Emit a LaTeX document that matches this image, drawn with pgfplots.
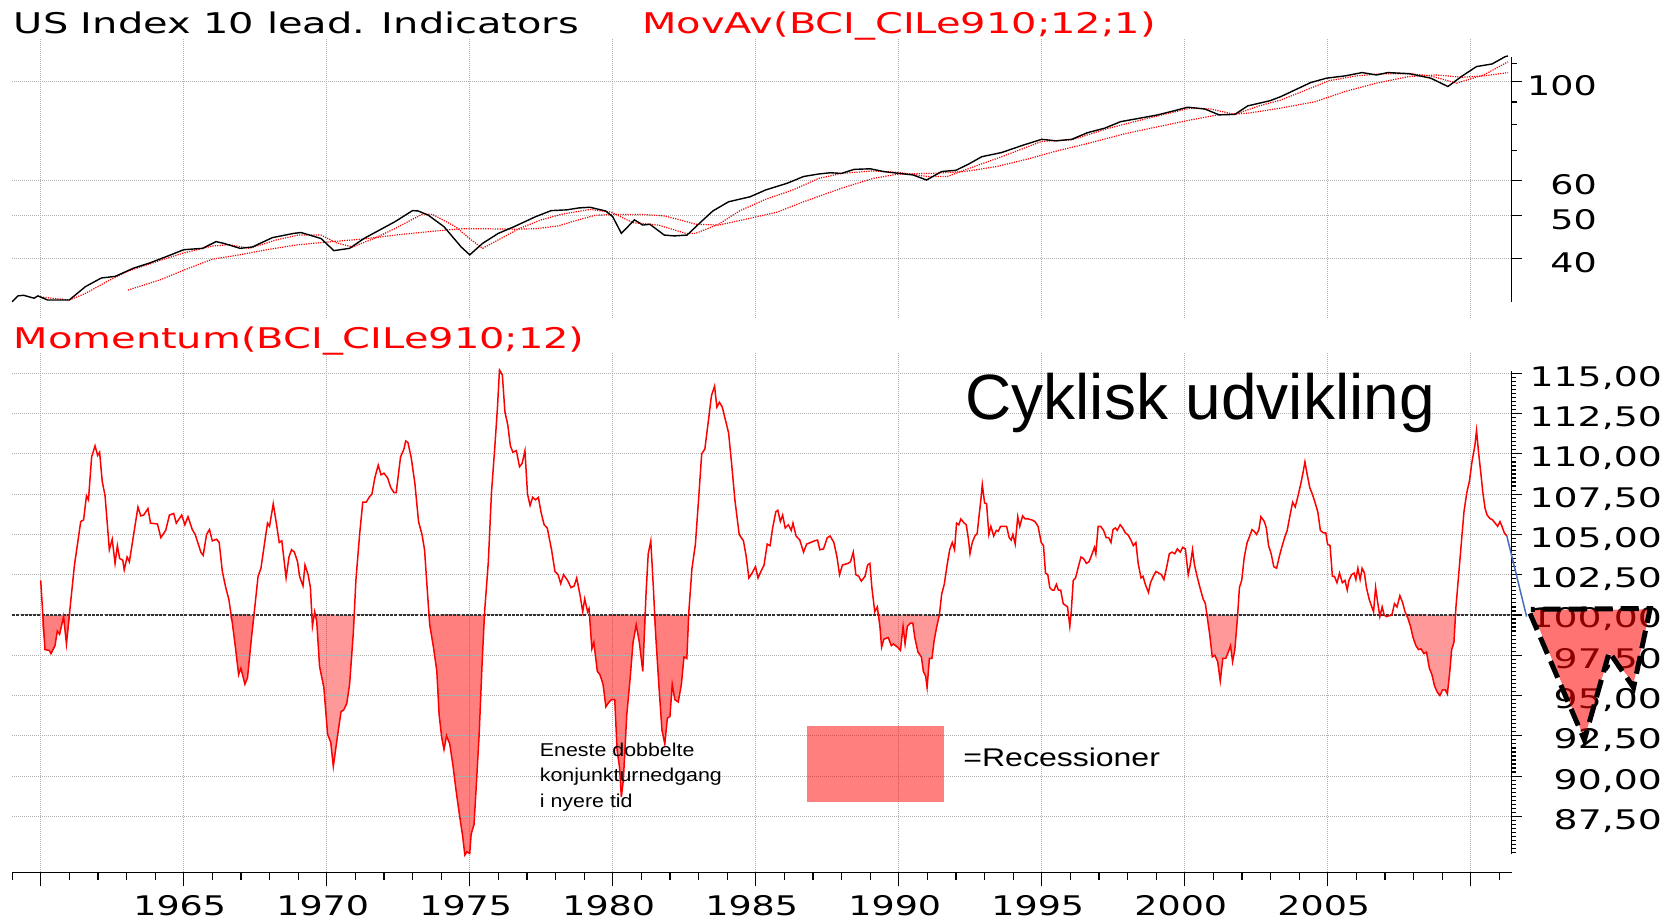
\documentclass[border=0pt]{standalone}
\usepackage{pgfplots}
\pgfplotsset{compat=1.18}
\usepgfplotslibrary{fillbetween}
\usepackage{pgfplotstable}
\usepackage{fontspec}
\newfontfamily\chartfont[FakeStretch=1.35]{DejaVu Sans}
\newfontfamily\chartfontw[FakeStretch=1.4]{DejaVu Sans}
\newfontfamily\titlefont[FakeStretch=1.4]{DejaVu Sans}
\newfontfamily\annfont{Liberation Sans}
\newfontfamily\annfontA[FakeStretch=1.15]{Liberation Sans}
\newfontfamily\annfontB[FakeStretch=1.25]{Liberation Sans}

\definecolor{projblue}{RGB}{70,110,190}

% index (black)
\pgfplotstableread{
yr v
1959.0 32.0
1959.21 33.0
1959.4 33.1
1959.77 32.6
1959.9 33.0
1960.24 32.3
1961.0 32.3
1961.56 34.6
1962.12 36.2
1962.6 36.5
1963.25 38.1
1963.8 39.1
1964.55 40.8
1965.0 41.9
1965.66 42.2
1966.13 43.7
1966.4 43.3
1966.97 42.2
1967.4 42.5
1968.1 44.6
1968.85 45.6
1969.1 45.8
1969.8 44.4
1970.25 41.7
1970.8 42.2
1971.3 44.4
1971.85 46.4
1972.4 48.5
1973.0 51.3
1973.2 51.2
1973.55 50.1
1974.1 47.2
1974.7 42.5
1975.0 40.8
1975.45 43.3
1976.0 45.6
1976.55 47.2
1977.3 49.7
1977.85 51.3
1978.4 51.5
1978.8 52.0
1979.2 52.2
1979.75 51.2
1980.0 49.7
1980.3 45.6
1980.76 48.9
1981.05 47.6
1981.3 47.8
1981.8 45.2
1982.15 45.0
1982.6 45.2
1983.1 48.5
1983.5 51.2
1984.05 53.7
1984.8 55.1
1985.35 57.1
1986.1 59.1
1986.67 61.2
1987.2 62.0
1987.6 62.4
1988.0 62.2
1988.44 63.5
1989.0 63.7
1989.46 62.8
1990.0 62.2
1990.5 61.7
1990.97 60.1
1991.5 62.8
1992.0 63.2
1992.45 65.3
1992.9 67.8
1993.6 69.3
1994.35 72.0
1995.0 74.2
1995.5 73.6
1996.05 74.2
1996.6 76.8
1997.2 78.6
1997.76 81.3
1998.4 82.7
1999.06 84.2
1999.6 85.9
2000.1 87.6
2000.7 86.8
2001.2 84.2
2001.75 84.4
2002.2 88.2
2002.98 90.6
2003.35 92.5
2003.9 96.1
2004.4 99.5
2004.95 101.8
2005.6 103.0
2006.2 104.8
2006.7 103.5
2007.1 104.8
2007.85 104.2
2008.6 101.8
2009.2 97.5
2009.7 103.0
2010.2 108.1
2010.75 109.6
2011.2 113.8
2011.3 114.2
}\idxdata

% short moving average (red dotted)
\pgfplotstableread{
yr v
1960.0 32.8
1961.0 32.3
1961.56 33.4
1962.3 35.5
1963.05 37.5
1964.2 39.7
1965.0 41.2
1966.0 42.7
1966.6 43.0
1967.3 42.2
1968.25 44.1
1969.0 45.2
1969.8 45.2
1970.35 43.4
1970.9 42.5
1971.65 44.4
1972.4 46.8
1973.35 50.4
1973.7 50.3
1974.5 47.2
1975.05 44.1
1975.45 42.2
1976.0 44.1
1976.75 46.8
1977.5 48.9
1978.25 50.4
1979.2 51.6
1979.95 50.9
1980.7 48.2
1981.6 47.6
1982.55 45.6
1982.9 45.6
1983.7 47.8
1984.45 51.3
1985.35 54.4
1986.3 57.1
1987.2 60.6
1988.0 62.2
1989.1 63.0
1990.0 62.5
1991.0 61.2
1991.7 61.2
1992.45 63.8
1993.6 67.8
1995.0 73.4
1996.05 74.0
1997.35 78.6
1998.7 82.7
2000.2 87.2
2000.9 86.8
2001.75 84.4
2002.6 88.2
2003.35 90.9
2004.3 96.1
2005.05 100.5
2006.0 103.0
2006.9 104.2
2007.85 104.2
2008.6 103.0
2009.5 99.2
2010.45 103.5
2011.3 110.8
}\mashort

% long moving average (red dotted)
\pgfplotstableread{
yr v
1963.05 34.0
1964.2 35.9
1965.0 37.7
1966.0 39.9
1966.95 40.8
1967.9 41.9
1969.0 43.0
1970.2 43.7
1971.3 44.3
1972.4 45.2
1973.55 46.0
1974.7 46.7
1975.45 46.7
1976.55 46.6
1977.3 46.7
1978.1 47.4
1978.8 48.9
1979.4 50.1
1980.1 50.3
1981.05 50.3
1981.8 49.9
1982.35 48.9
1982.9 47.8
1983.7 47.6
1984.8 49.3
1985.75 50.9
1986.67 53.7
1988.0 57.6
1989.1 60.6
1990.0 62.0
1991.15 62.2
1992.3 62.8
1993.4 64.4
1994.55 67.1
1995.5 69.8
1996.6 72.6
1997.95 76.5
1999.3 79.8
2000.2 82.0
2001.15 84.2
2002.2 84.9
2003.35 87.2
2004.55 90.1
2005.6 95.0
2006.7 99.2
2007.85 102.7
2008.8 103.5
2009.7 102.3
2010.45 103.0
2011.3 104.8
}\malong

% momentum
\pgfplotstableread{
yr v
1960.0 102.15
1960.15 97.85
1960.3 97.8
1960.36 97.6
1960.5 98.1
1960.58 99.0
1960.66 98.8
1960.8 99.9
1960.9 98.2
1961.03 100.5
1961.18 103.1
1961.4 105.8
1961.5 105.9
1961.6 107.4
1961.67 107.15
1961.78 109.8
1961.9 110.5
1961.99 109.9
1962.06 110.1
1962.15 108.3
1962.25 107.4
1962.4 104.05
1962.5 104.7
1962.6 103.2
1962.68 104.3
1962.76 103.5
1962.87 103.4
1962.92 102.8
1963.02 103.6
1963.1 103.3
1963.25 105.0
1963.4 106.7
1963.5 106.15
1963.6 106.2
1963.75 106.6
1963.84 105.7
1964.08 105.65
1964.2 104.8
1964.37 105.25
1964.5 106.2
1964.65 106.3
1964.74 105.7
1964.93 106.2
1965.04 105.6
1965.15 106.1
1965.3 105.3
1965.4 105.0
1965.6 103.9
1965.68 103.7
1965.8 105.0
1965.9 105.3
1966.0 104.6
1966.15 104.7
1966.24 104.5
1966.35 102.7
1966.47 101.7
1966.58 100.95
1966.7 99.5
1966.8 98.1
1966.92 96.3
1967.0 96.7
1967.14 95.7
1967.23 96.1
1967.37 98.6
1967.48 100.4
1967.6 102.4
1967.7 102.9
1967.83 104.5
1967.93 105.7
1968.0 105.5
1968.13 106.9
1968.23 105.8
1968.34 104.5
1968.43 104.6
1968.58 102.3
1968.68 103.6
1968.77 104.05
1968.87 103.9
1968.98 103.3
1969.05 102.4
1969.17 101.8
1969.24 103.1
1969.35 102.5
1969.43 101.7
1969.5 99.3
1969.58 100.2
1969.65 99.6
1969.75 96.8
1969.9 95.5
1970.03 92.6
1970.14 92.1
1970.23 90.6
1970.37 92.4
1970.5 94.0
1970.59 94.1
1970.7 94.5
1970.8 95.7
1970.93 98.9
1971.02 102.15
1971.15 105.0
1971.26 107.0
1971.38 107.0
1971.5 107.35
1971.58 107.5
1971.68 108.5
1971.8 109.3
1971.9 108.7
1972.0 108.8
1972.13 108.5
1972.24 107.9
1972.35 107.6
1972.43 107.6
1972.58 109.8
1972.7 110.3
1972.76 110.8
1972.84 110.7
1972.95 109.8
1973.08 108.2
1973.21 105.8
1973.33 105.0
1973.42 104.05
1973.51 101.7
1973.6 99.4
1973.74 97.9
1973.85 96.5
1973.93 93.8
1974.02 92.4
1974.1 91.65
1974.19 92.5
1974.3 92.0
1974.41 90.7
1974.53 89.0
1974.64 87.6
1974.75 86.3
1974.83 85.1
1974.9 85.3
1975.0 85.2
1975.05 86.4
1975.15 87.0
1975.24 89.75
1975.33 92.6
1975.43 96.9
1975.52 100.2
1975.65 103.3
1975.76 107.6
1975.88 110.5
1975.97 112.9
1976.04 115.2
1976.14 114.9
1976.23 112.6
1976.33 111.8
1976.42 110.5
1976.51 110.1
1976.63 110.2
1976.74 109.2
1976.83 109.4
1976.93 110.2
1977.02 107.5
1977.11 106.8
1977.2 107.3
1977.3 107.15
1977.4 107.3
1977.49 106.4
1977.6 105.6
1977.71 105.4
1977.86 104.05
1977.98 102.7
1978.09 102.5
1978.18 101.95
1978.28 102.5
1978.42 102.15
1978.54 101.7
1978.65 101.8
1978.74 102.3
1978.86 101.2
1978.95 100.2
1979.02 101.0
1979.12 100.2
1979.17 100.4
1979.27 97.9
1979.34 98.3
1979.46 96.5
1979.55 96.3
1979.66 95.7
1979.76 94.3
1979.87 94.6
1979.96 94.75
1980.07 94.75
1980.15 91.65
1980.24 90.5
1980.3 88.7
1980.37 89.75
1980.49 93.8
1980.6 95.9
1980.71 98.3
1980.82 99.4
1980.93 98.3
1981.05 96.5
1981.16 101.2
1981.24 103.8
1981.33 104.6
1981.42 101.7
1981.5 98.8
1981.61 95.7
1981.72 92.85
1981.82 92.0
1981.91 93.6
1982.0 93.7
1982.08 95.7
1982.17 94.75
1982.29 94.6
1982.4 95.7
1982.49 97.4
1982.59 97.3
1982.66 100.2
1982.77 102.9
1982.89 104.4
1983.0 107.15
1983.11 110.0
1983.22 110.3
1983.34 112.0
1983.45 113.6
1983.56 114.2
1983.64 112.9
1983.73 113.2
1983.83 112.9
1983.94 112.1
1984.05 111.3
1984.16 109.3
1984.27 107.15
1984.42 105.0
1984.57 104.6
1984.66 103.7
1984.76 102.3
1984.87 102.6
1984.99 103.0
1985.08 102.3
1985.18 102.7
1985.29 103.1
1985.4 104.4
1985.5 104.3
1985.59 105.4
1985.7 106.4
1985.77 106.5
1985.86 105.8
1985.94 106.2
1986.03 105.4
1986.14 105.6
1986.24 105.25
1986.3 105.7
1986.41 104.9
1986.54 104.65
1986.67 103.9
1986.78 104.4
1986.92 104.5
1987.05 104.6
1987.16 104.65
1987.24 104.05
1987.37 104.1
1987.5 104.8
1987.6 104.9
1987.73 104.5
1987.84 103.6
1987.93 102.5
1988.03 103.1
1988.13 103.15
1988.22 103.2
1988.31 103.3
1988.41 103.9
1988.5 102.5
1988.6 102.4
1988.69 102.1
1988.82 102.4
1988.91 103.1
1988.99 103.2
1989.06 101.7
1989.16 100.2
1989.25 100.5
1989.34 99.3
1989.4 98.0
1989.48 98.5
1989.63 98.6
1989.74 98.1
1989.81 98.2
1989.96 98.0
1990.06 97.8
1990.15 99.3
1990.22 98.2
1990.3 99.3
1990.41 99.5
1990.49 99.5
1990.56 98.6
1990.67 97.7
1990.79 97.4
1990.86 96.5
1990.94 96.2
1990.99 95.5
1991.07 97.3
1991.16 97.3
1991.24 98.45
1991.33 99.3
1991.42 100.0
1991.5 101.3
1991.59 101.9
1991.69 103.1
1991.78 104.05
1991.87 104.5
1991.95 104.05
1992.02 105.7
1992.1 105.6
1992.17 105.96
1992.29 105.7
1992.36 105.6
1992.44 104.65
1992.49 103.8
1992.57 104.5
1992.66 104.9
1992.74 105.05
1992.81 106.2
1992.87 107.15
1992.92 108.1
1993.0 106.96
1993.07 106.9
1993.15 105.0
1993.22 105.5
1993.32 104.9
1993.41 105.25
1993.48 105.2
1993.56 105.5
1993.67 105.5
1993.77 105.5
1993.86 104.8
1993.93 104.65
1993.99 105.0
1994.07 104.4
1994.16 106.1
1994.23 105.5
1994.33 106.15
1994.42 105.96
1994.53 105.96
1994.65 105.9
1994.76 105.8
1994.87 105.5
1994.98 104.5
1995.06 104.3
1995.13 102.6
1995.21 102.5
1995.28 101.7
1995.36 101.55
1995.43 101.55
1995.51 101.9
1995.58 101.55
1995.66 101.55
1995.75 100.7
1995.83 100.6
1995.9 100.5
1995.98 99.3
1996.03 100.2
1996.1 102.15
1996.18 102.3
1996.28 103.0
1996.37 103.6
1996.46 103.5
1996.56 103.2
1996.65 103.3
1996.74 103.7
1996.84 104.2
1996.89 103.8
1996.97 105.5
1997.06 105.5
1997.16 105.25
1997.25 104.8
1997.34 104.8
1997.42 104.5
1997.49 105.3
1997.57 105.4
1997.64 105.25
1997.74 105.6
1997.83 105.4
1997.92 105.1
1998.02 104.96
1998.13 104.6
1998.2 104.3
1998.29 104.5
1998.37 103.2
1998.47 102.3
1998.54 102.4
1998.62 101.9
1998.73 101.4
1998.8 102.0
1998.9 102.4
1998.99 102.7
1999.09 102.6
1999.18 102.5
1999.27 102.2
1999.37 103.0
1999.46 103.8
1999.55 103.9
1999.65 103.8
1999.74 104.1
1999.84 103.9
1999.93 104.2
2000.02 104.1
2000.12 102.5
2000.19 103.1
2000.27 104.05
2000.34 103.1
2000.43 102.4
2000.53 101.7
2000.64 101.0
2000.72 100.7
2000.79 99.8
2000.87 98.8
2000.96 97.4
2001.05 97.5
2001.15 97.1
2001.24 95.9
2001.33 97.3
2001.43 97.3
2001.52 97.7
2001.6 98.1
2001.67 97.1
2001.75 97.85
2001.84 99.8
2001.91 101.7
2001.99 102.15
2002.08 103.6
2002.18 104.5
2002.27 104.9
2002.35 105.3
2002.42 105.2
2002.51 105.0
2002.59 105.3
2002.66 106.1
2002.78 105.8
2002.85 105.4
2002.93 104.3
2003.02 103.8
2003.11 103.0
2003.21 102.9
2003.3 103.6
2003.39 104.2
2003.49 104.8
2003.58 105.25
2003.68 106.2
2003.77 107.0
2003.86 106.7
2003.96 107.4
2004.05 108.1
2004.13 108.8
2004.2 109.5
2004.27 108.8
2004.37 107.9
2004.46 107.5
2004.55 107.0
2004.65 106.4
2004.74 105.25
2004.84 105.1
2004.93 105.1
2004.99 104.4
2005.08 104.3
2005.16 102.4
2005.23 102.4
2005.32 102.0
2005.41 102.6
2005.51 102.0
2005.6 102.15
2005.68 101.55
2005.74 102.15
2005.83 102.5
2005.92 102.6
2005.98 102.2
2006.05 102.9
2006.13 102.2
2006.2 102.9
2006.28 102.6
2006.35 101.7
2006.45 100.95
2006.52 100.6
2006.6 100.2
2006.67 101.7
2006.75 100.7
2006.82 99.9
2006.9 100.5
2006.97 100.0
2007.05 99.9
2007.14 99.95
2007.24 100.0
2007.33 100.7
2007.42 100.5
2007.52 101.2
2007.61 100.8
2007.7 100.2
2007.8 99.8
2007.89 99.3
2007.98 98.6
2008.08 98.1
2008.17 97.85
2008.26 97.9
2008.36 97.6
2008.45 97.7
2008.55 96.7
2008.64 96.3
2008.73 95.6
2008.83 95.2
2008.92 95.0
2009.01 95.35
2009.11 95.35
2009.18 95.1
2009.26 96.4
2009.33 97.85
2009.41 98.3
2009.48 100.5
2009.58 102.6
2009.67 104.5
2009.76 106.4
2009.86 107.6
2009.95 108.3
2010.04 109.5
2010.14 110.5
2010.2 111.45
2010.27 110.1
2010.35 108.8
2010.42 107.6
2010.5 106.6
2010.57 106.2
2010.66 106.0
2010.76 105.9
2010.85 105.7
2010.94 105.5
2011.02 105.8
2011.09 105.5
2011.17 105.1
2011.26 104.9
}\momdata

\begin{document}
\begin{tikzpicture}

% ---------- upper panel: index + moving averages (log) ----------
\begin{axis}[
  at={(6.05pt,301pt)}, anchor=south west,
  width=749.8pt, height=139.35pt, scale only axis,
  xmin=1959, xmax=2011.43,
  ymode=log, ymin=29.43, ymax=124.5,
  axis line style={draw=none},
  xtick={1960,1965,...,2010}, xticklabels={},
  major x tick style=transparent,
  ytick={40,50,60,100}, yticklabels={40,50,60,100},
  minor ytick={70,80,90,110},
  ytick pos=right, yticklabel pos=right,
  tick align=outside,
  major tick length=5pt, minor tick length=2.5pt,
  tick style={black, line width=0.6pt},
  xmajorgrids, ymajorgrids,
  grid style={gray!60, line width=0.5pt, dash pattern=on 0.5pt off 0.5pt},
  yticklabel style={font=\chartfont\fontsize{13.5pt}{14pt}\selectfont,
    anchor=east, inner sep=0pt, xshift=37.7pt, yshift=-2pt},
  clip=false,
]
\addplot[red, line width=0.6pt, dash pattern=on 0.6pt off 0.6pt] table[x=yr, y=v] {\malong};
\addplot[red, line width=0.6pt, dash pattern=on 0.6pt off 0.6pt] table[x=yr, y=v] {\mashort};
\addplot[black, line width=0.7pt] table[x=yr, y=v] {\idxdata};
\draw[black, line width=0.7pt] (axis cs:2011.43,32.0) -- (axis cs:2011.43,113.8);
\end{axis}

% ---------- lower panel: y grid, right axis ----------
\begin{axis}[
  at={(6.05pt,23.85pt)}, anchor=south west,
  width=749.8pt, height=259.65pt, scale only axis,
  xmin=1959, xmax=2011.43, ymin=84.03, ymax=116.26,
  axis line style={draw=none},
  xtick=\empty,
  ytick={87.5,90,...,115},
  yticklabels={{87,50},{90,00},{92,50},{95,00},{97,50},{100,00},{102,50},{105,00},{107,50},{110,00},{112,50},{115,00}},
  minor ytick={85.25,85.5,...,115.1},
  ytick pos=right, yticklabel pos=right,
  tick align=outside,
  major tick length=5pt, minor tick length=2pt,
  tick style={black, line width=0.6pt},
  ymajorgrids,
  grid style={gray!60, line width=0.5pt, dash pattern=on 0.5pt off 0.5pt},
  yticklabel style={font=\chartfontw\fontsize{13.5pt}{14pt}\selectfont,
    anchor=east, inner sep=0pt, xshift=70.3pt, yshift=-2.25pt},
  clip=false,
]
\addplot[draw=none] coordinates {(1960,100) (1961,100)};
\draw[black, line width=0.7pt] (axis cs:2011.43,85.19) -- (axis cs:2011.43,115.14);
\end{axis}

% ---------- lower panel: x axis, data, annotations ----------
\begin{axis}[
  at={(6.05pt,23.85pt)}, anchor=south west,
  width=749.8pt, height=259.65pt, scale only axis,
  xmin=1959, xmax=2011.43, ymin=84.03, ymax=116.26,
  hide y axis,
  axis line style={draw=none},
  xtick={1960,1965,...,2010},
  xticklabels={{},1965,1970,1975,1980,1985,1990,1995,2000,2005,{}},
  minor xtick={1959,1960,...,2011},
  xtick pos=bottom, tick align=outside,
  major tick length=7pt, minor tick length=4pt,
  tick style={black, line width=0.6pt},
  xmajorgrids,
  grid style={gray!60, line width=0.5pt, dash pattern=on 0.5pt off 0.5pt},
  xticklabel style={font=\chartfont\fontsize{13.5pt}{14pt}\selectfont,
    anchor=north, inner sep=0pt, yshift=-4.35pt, xshift=-2pt},
  clip=false,
]
\addplot[draw=none, name path=clamp] table[x=yr, y expr={min(\thisrow{v},100)}] {\momdata};
\addplot[draw=none, name path=base] coordinates {(1959,100) (2011.43,100)};
\addplot[fill=red, fill opacity=0.5, draw=none] fill between[of=clamp and base, soft clip={domain=1960.05:1961.03}];
\addplot[fill=red, fill opacity=0.5, draw=none] fill between[of=clamp and base, soft clip={domain=1966.62:1967.48}];
\addplot[fill=red, fill opacity=0.4, draw=none] fill between[of=clamp and base, soft clip={domain=1969.5:1970.97}];
\addplot[fill=red, fill opacity=0.5, draw=none] fill between[of=clamp and base, soft clip={domain=1973.58:1975.55}];
\addplot[fill=red, fill opacity=0.5, draw=none] fill between[of=clamp and base, soft clip={domain=1979.2:1981.14}];
\addplot[fill=red, fill opacity=0.5, draw=none] fill between[of=clamp and base, soft clip={domain=1981.14:1982.65}];
\addplot[fill=red, fill opacity=0.4, draw=none] fill between[of=clamp and base, soft clip={domain=1989.3:1991.42}];
\addplot[fill=red, fill opacity=0.4, draw=none] fill between[of=clamp and base, soft clip={domain=2000.77:2001.86}];
\addplot[fill=red, fill opacity=0.4, draw=none] fill between[of=clamp and base, soft clip={domain=2007.78:2009.48}];
\addplot[black!80, line width=0.8pt, dash pattern=on 1.5pt off 0.6pt] coordinates {(1959,100) (2011.43,100)};
\addplot[red, line width=0.75pt] table[x=yr, y=v] {\momdata};
\addplot[projblue, line width=0.75pt] coordinates {(2011.26,104.9) (2011.95,99.9)};
% projected double dip
\addplot[draw=none, fill=red, fill opacity=0.55] coordinates {(2012.13,100.3) (2013.97,92.35) (2014.84,97.6) (2015.69,95.76) (2016.27,100.35)} -- cycle;
\addplot[black, line width=2.5pt, dash pattern=on 9pt off 4pt] coordinates {(2012.07,100.1) (2013.97,92.25) (2014.84,97.7) (2015.69,95.5) (2016.27,100.4) (2012.1,100.35)};
\draw[black, line width=0.7pt] (rel axis cs:0,0) -- (rel axis cs:1,0);
\end{axis}

% ---------- titles and notes ----------
\node[anchor=base west, inner sep=0pt, font=\titlefont\fontsize{14.25pt}{16pt}\selectfont] at (6.7pt,443pt) {US Index 10 lead. Indicators};
\node[anchor=base west, inner sep=0pt, text=red, font=\titlefont\fontsize{14.25pt}{16pt}\selectfont] at (321pt,443pt) {MovAv(BCI\_CILe910;12;1)};
\node[anchor=base west, inner sep=0pt, text=red, font=\titlefont\fontsize{14.25pt}{16pt}\selectfont] at (6.7pt,285.65pt) {Momentum(BCI\_CILe910;12)};
\node[anchor=base west, inner sep=0pt, font=\annfont\fontsize{32pt}{36pt}\selectfont] at (482.5pt,250pt) {Cyklisk udvikling};
\node[anchor=base west, inner sep=0pt, font=\annfontA\fontsize{9.3pt}{11pt}\selectfont] at (269.75pt,81.65pt) {Eneste dobbelte};
\node[anchor=base west, inner sep=0pt, font=\annfontA\fontsize{9.3pt}{11pt}\selectfont] at (269.75pt,69.15pt) {konjunkturnedgang};
\node[anchor=base west, inner sep=0pt, font=\annfontA\fontsize{9.3pt}{11pt}\selectfont] at (269.75pt,56.35pt) {i nyere tid};
\fill[red, opacity=0.5] (403.5pt,59pt) rectangle (472pt,97pt);
\node[anchor=base west, inner sep=0pt, font=\annfontB\fontsize{12.8pt}{15pt}\selectfont] at (481.5pt,76.65pt) {=Recessioner};

\pgfresetboundingbox
\path[use as bounding box] (0,0) rectangle (839.5pt,460pt);
\end{tikzpicture}
\end{document}
